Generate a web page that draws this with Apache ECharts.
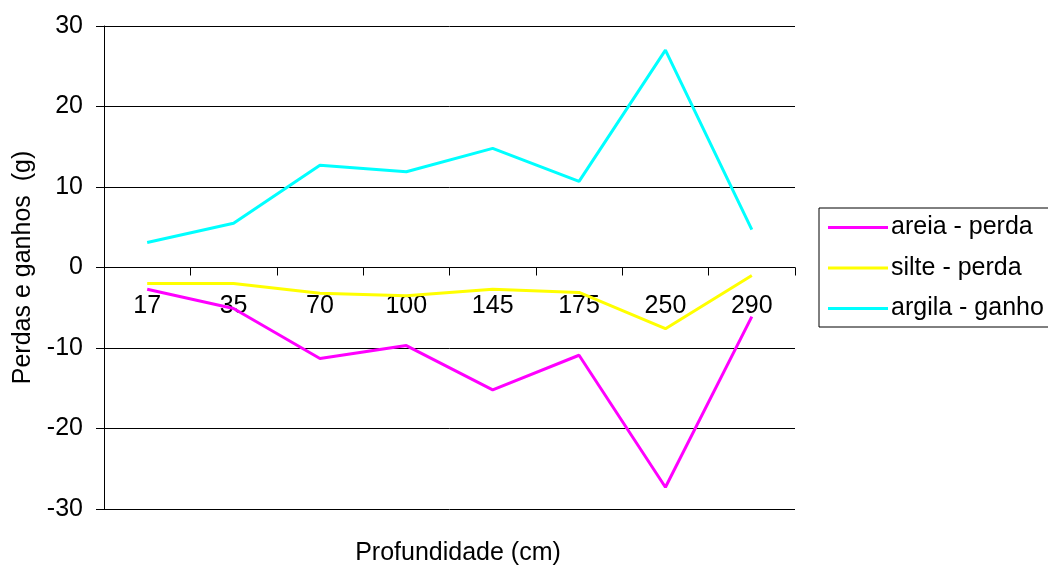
<!DOCTYPE html>
<html>
<head>
<meta charset="utf-8">
<script src="https://cdn.jsdelivr.net/npm/echarts@6/dist/echarts.min.js"></script>
<style>
html,body{margin:0;padding:0;background:#fff;}
#chart{width:1048px;height:566px;}
</style>
</head>
<body>
<div id="chart"></div>
<script>
const categories = ['17', '35', '70', '100', '145', '175', '250', '290'];
const areiaPerda = [-2.7, -5.1, -11.3, -9.7, -15.2, -10.9, -27.3, -6.1];
const siltePerda = [-2.0, -2.0, -3.2, -3.5, -2.7, -3.1, -7.6, -1.0];
const argilaGanho = [3.1, 5.5, 12.7, 11.9, 14.8, 10.7, 27.0, 4.7];
const seriesNames = ['areia - perda', 'silte - perda', 'argila - ganho'];
const yTicks = { min: -30, max: 30, interval: 10 };

const FONT = '"Liberation Sans", Arial, sans-serif';
const FS = 25;
const GRID = { left: 104, right: 253, top: 26, bottom: 57 };
const plotH = 566 - GRID.top - GRID.bottom;
// distance from grid bottom to the zero line, derived from the axis range
const zeroOffset = plotH * (0 - yTicks.min) / (yTicks.max - yTicks.min);

const chart = echarts.init(document.getElementById('chart'), null, { renderer: 'canvas' });

const mkSeries = (name, data, color) => ({
  name, type: 'line', data, symbol: 'none', smooth: false, xAxisIndex: 0,
  lineStyle: { color, width: 3 }, itemStyle: { color }, z: 3
});

chart.setOption({
  animation: false,
  backgroundColor: '#ffffff',
  textStyle: { fontFamily: FONT, color: '#000' },
  title: {
    text: 'Profundidade (cm)',
    left: 453, top: 536, textAlign: 'center',
    textStyle: { fontFamily: FONT, fontSize: FS, fontWeight: 'normal', color: '#000' }
  },
  grid: Object.assign({ containLabel: false }, GRID),
  legend: {
    orient: 'vertical',
    left: 819, top: 208,
    padding: [7, 40, 6, 9],
    borderColor: '#000', borderWidth: 1,
    itemWidth: 60, itemHeight: 3, itemGap: 15.5,
    icon: 'rect',
    textStyle: { fontFamily: FONT, fontSize: FS, color: '#000', lineHeight: 24, padding: [0, 0, 0, -2] },
    data: seriesNames
  },
  xAxis: [{
    type: 'category',
    data: categories,
    boundaryGap: true,
    axisLine: { onZero: true, lineStyle: { color: '#000', width: 1 } },
    axisTick: { show: true, length: 8, lineStyle: { color: '#000' } },
    axisLabel: { show: false },
    splitLine: { show: false }
  }, {
    type: 'category',
    data: categories,
    boundaryGap: true,
    position: 'bottom',
    offset: -zeroOffset,
    axisLine: { show: false, onZero: false },
    axisTick: { show: false },
    axisLabel: { fontFamily: FONT, fontSize: FS, color: '#000', margin: 26 },
    splitLine: { show: false }
  }],
  yAxis: {
    type: 'value',
    min: yTicks.min, max: yTicks.max, interval: yTicks.interval,
    name: 'Perdas e ganhos  (g)',
    nameLocation: 'middle', nameGap: 68,
    nameTextStyle: { fontFamily: FONT, fontSize: FS, color: '#000' },
    axisLine: { show: true, lineStyle: { color: '#000', width: 1 } },
    axisTick: { show: true, length: 8, lineStyle: { color: '#000' } },
    axisLabel: { fontFamily: FONT, fontSize: FS, color: '#000', margin: 21 },
    splitLine: { show: true, lineStyle: { color: '#000', width: 1 } }
  },
  series: [
    mkSeries(seriesNames[0], areiaPerda, '#FF00FF'),
    mkSeries(seriesNames[1], siltePerda, '#FFFF00'),
    mkSeries(seriesNames[2], argilaGanho, '#00FFFF')
  ]
});
</script>
</body>
</html>
